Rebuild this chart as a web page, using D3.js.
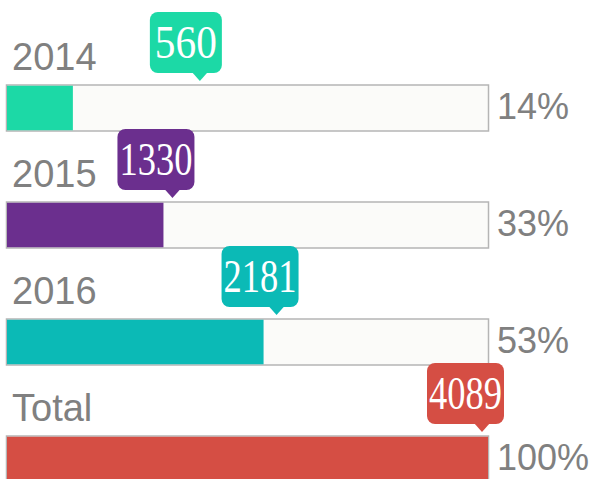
<!DOCTYPE html>
<meta charset="utf-8">
<script src="https://d3js.org/d3.v7.min.js"></script>
<style>
  body { margin: 0; background: #fff; }
</style>
<div id="chart"></div>
<script>

// data
var categories = ["2014", "2015", "2016", "Total"];
var values = [560, 1330, 2181, 4089];
var percents = ["14%", "33%", "53%", "100%"];
var colors = ["#1cd9a6", "#6b2f8e", "#0bbab6", "#d54e44"];

// callout tip offset from the end of each filled bar (px)
var tipOffset = [127, 9, 13, -6];

var width = 594, height = 479;
var total = values[3];
var barH = 46;

var svg = d3.select("#chart")
  .append("svg")
    .attr("width", width)
    .attr("height", height);

var x = d3.scaleLinear()
  .domain([0, total])
  .range([7, 488]);

var y = d3.scalePoint()
  .domain(categories)
  .range([85, 436]);

var rows = svg.selectAll("g.row")
  .data(categories)
  .enter()
  .append("g")
    .attr("class", "row");

// track
rows.append("rect")
  .attr("x", x(0) - 0.5)
  .attr("y", function(d) { return y(d); })
  .attr("width", x(total) - x(0) + 1)
  .attr("height", barH)
  .attr("fill", "#fbfbf9")
  .attr("stroke", "#b5b5b5")
  .attr("stroke-width", 1.5);

// fill
rows.append("rect")
  .attr("x", x(0))
  .attr("y", function(d) { return y(d) + 0.75; })
  .attr("width", function(d, i) { return x(values[i]) - x(0); })
  .attr("height", barH - 1.5)
  .attr("fill", function(d, i) { return colors[i]; });

// category labels
rows.append("text")
  .attr("x", 12)
  .attr("y", function(d) { return y(d) - 15; })
  .attr("font-family", "Liberation Sans, Arial, sans-serif")
  .attr("font-size", 38)
  .attr("fill", "#808080")
  .text(function(d) { return d; });

// percent labels
rows.append("text")
  .attr("x", 497)
  .attr("y", function(d) { return y(d) + 34; })
  .attr("font-family", "Liberation Sans, Arial, sans-serif")
  .attr("font-size", 36)
  .attr("fill", "#808080")
  .text(function(d, i) { return percents[i]; });

// callouts
rows.each(function(d, i) {
  var g = d3.select(this);
  var top = y(d);
  var tip = x(values[i]) + tipOffset[i];
  var digits = String(values[i]).length;
  var boxW = 57 + 5 * digits;
  var boxR = tip + 22;
  var boxL = boxR - boxW;
  var boxB = top - 12;
  var boxT = top - 73;

  g.append("rect")
    .attr("x", boxL)
    .attr("y", boxT)
    .attr("width", boxW)
    .attr("height", boxB - boxT)
    .attr("rx", 8)
    .attr("fill", colors[i]);
  g.append("path")
    .attr("d", "M" + (tip - 8) + "," + (boxB - 1) + "L" + tip + "," + (top - 4) + "L" + (tip + 8) + "," + (boxB - 1) + "Z")
    .attr("fill", colors[i]);

  g.append("text")
    .attr("x", boxL + boxW / 2)
    .attr("y", boxT + 46)
    .attr("font-family", "Liberation Serif, serif")
    .attr("font-size", 47)
    .attr("fill", "#fff")
    .attr("text-anchor", "middle")
    .attr("textLength", digits === 3 ? boxW - 10 : boxW - 4)
    .attr("lengthAdjust", "spacingAndGlyphs")
    .text(values[i]);
});

</script>
